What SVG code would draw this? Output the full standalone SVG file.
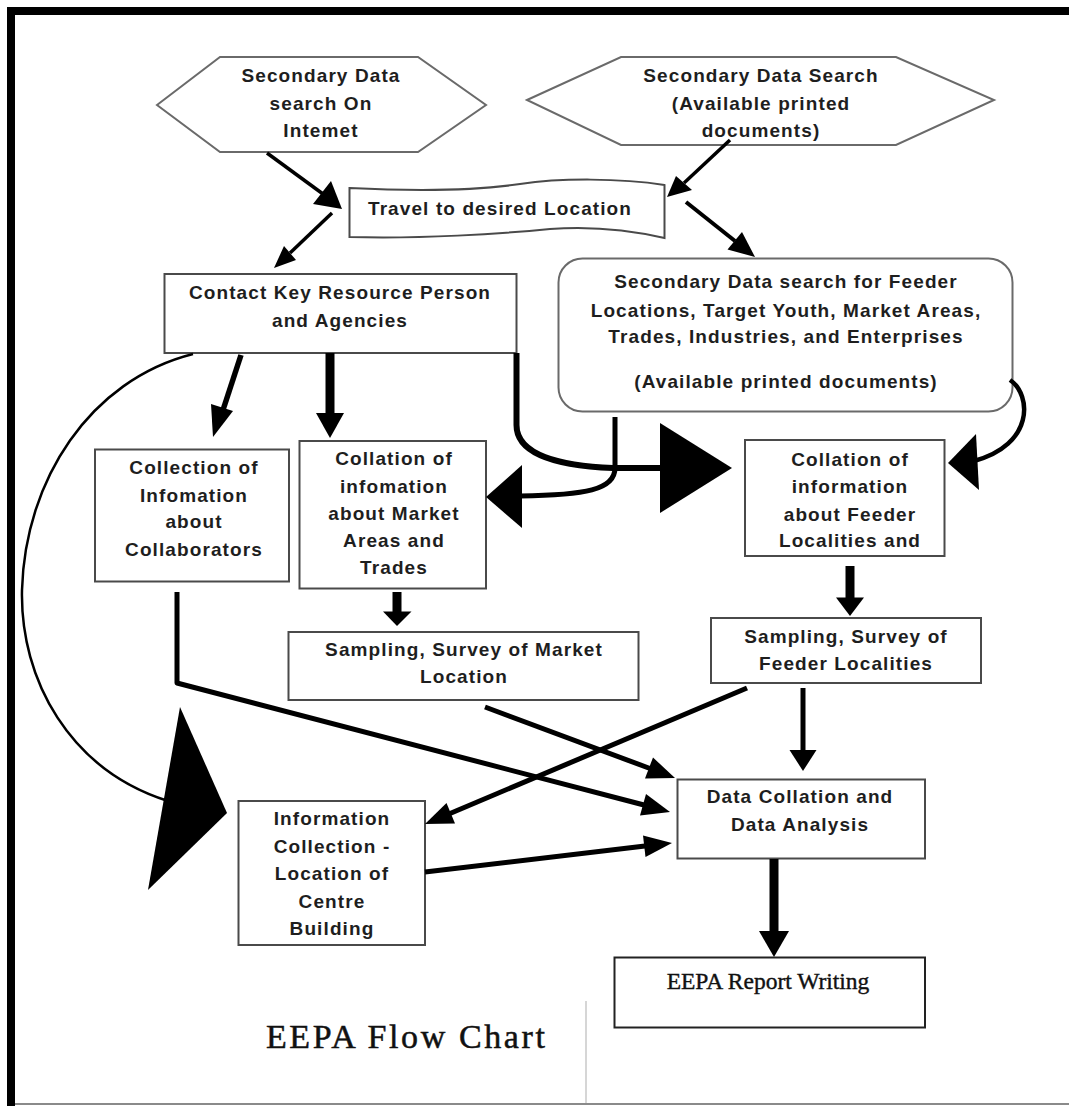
<svg xmlns="http://www.w3.org/2000/svg" width="1069" height="1106" viewBox="0 0 1069 1106">
<style>
.box{fill:#fff;stroke:#4a4a4a;stroke-width:2}
.hex{fill:#fff;stroke:#6a6a6a;stroke-width:2}
.t{font-family:"Liberation Sans",Arial,sans-serif;font-weight:bold;font-size:19px;letter-spacing:1.1px;fill:#1e1e1e;text-anchor:middle}
.s{font-family:"Liberation Serif","Times New Roman",serif;fill:#111;stroke:#111}
.ln{fill:none;stroke:#000;stroke-linecap:butt;stroke-linejoin:round}
.ah{fill:#000;stroke:none}
</style>
<rect x="0" y="0" width="1069" height="1106" fill="#fff"/>
<g id="frame">
<rect x="7" y="7" width="1062" height="8" fill="#000"/>
<rect x="7" y="7" width="8" height="1099" fill="#000"/>
<line x1="15" y1="1104" x2="1069" y2="1104" stroke="#8a8a8a" stroke-width="2"/>
<line x1="586" y1="1001" x2="586" y2="1103" stroke="#c8c8c8" stroke-width="1.5"/>
</g>

<g id="hex-internet">
<polygon class="hex" points="157,105 220,57 418,57 486,105 418,152 220,152"/>
<text class="t" x="321" y="82">Secondary Data</text>
<text class="t" x="321" y="110">search On</text>
<text class="t" x="321" y="137">Intemet</text>
</g>

<g id="hex-printed">
<polygon class="hex" points="527,100 621,57 896,57 994,100 896,145 621,145"/>
<text class="t" x="761" y="82">Secondary Data Search</text>
<text class="t" x="761" y="110">(Available printed</text>
<text class="t" x="761" y="137">documents)</text>
</g>

<g id="travel">
<path class="box" d="M349.5,188 C430,192 480,190 520,184 C560,178 620,178 664.5,185 L664.5,238 C630,230 590,226 550,229 C500,234 420,239 349.5,237 Z"/>
<text class="t" x="500" y="215">Travel to desired Location</text>
</g>

<g id="contact">
<rect class="box" x="164.5" y="274" width="352" height="79"/>
<text class="t" x="340" y="299">Contact Key Resource Person</text>
<text class="t" x="340" y="327">and Agencies</text>
</g>

<g id="secondary-feeder">
<rect class="hex" x="558.5" y="258.5" width="454" height="153" rx="24" ry="24"/>
<text class="t" x="786" y="288">Secondary Data search for Feeder</text>
<text class="t" x="786" y="317">Locations, Target Youth, Market Areas,</text>
<text class="t" x="786" y="343">Trades, Industries, and Enterprises</text>
<text class="t" x="786" y="388">(Available printed documents)</text>
</g>

<g id="collection-collaborators">
<rect class="box" x="95" y="449.5" width="194" height="132"/>
<text class="t" x="194" y="474">Collection of</text>
<text class="t" x="194" y="502">Infomation</text>
<text class="t" x="194" y="528">about</text>
<text class="t" x="194" y="556">Collaborators</text>
</g>

<g id="collation-market">
<rect class="box" x="299.5" y="441" width="186.5" height="147.5"/>
<text class="t" x="394" y="465">Collation of</text>
<text class="t" x="394" y="493">infomation</text>
<text class="t" x="394" y="520">about Market</text>
<text class="t" x="394" y="547">Areas and</text>
<text class="t" x="394" y="574">Trades</text>
</g>

<g id="collation-feeder">
<rect class="box" x="745" y="440" width="199.5" height="116"/>
<text class="t" x="850" y="466">Collation of</text>
<text class="t" x="850" y="493">information</text>
<text class="t" x="850" y="521">about Feeder</text>
<text class="t" x="850" y="547">Localities and</text>
</g>

<g id="sampling-market">
<rect class="box" x="288.5" y="632" width="350" height="68"/>
<text class="t" x="464" y="656">Sampling, Survey of Market</text>
<text class="t" x="464" y="683">Location</text>
</g>

<g id="sampling-feeder">
<rect class="box" x="711" y="618" width="270" height="65"/>
<text class="t" x="846" y="643">Sampling, Survey of</text>
<text class="t" x="846" y="670">Feeder Localities</text>
</g>

<g id="data-collation">
<rect class="box" x="677.5" y="779.5" width="247.5" height="79"/>
<text class="t" x="800" y="803">Data Collation and</text>
<text class="t" x="800" y="831">Data Analysis</text>
</g>

<g id="info-collection">
<rect class="box" x="238.5" y="801" width="186.5" height="144"/>
<text class="t" x="332" y="825">Information</text>
<text class="t" x="332" y="853">Collection -</text>
<text class="t" x="332" y="880">Location of</text>
<text class="t" x="332" y="908">Centre</text>
<text class="t" x="332" y="935">Building</text>
</g>

<g id="report">
<rect x="614.5" y="957.5" width="310.5" height="70" fill="#fff" stroke="#222" stroke-width="2"/>
<text class="s" x="768" y="989" font-size="23.5" stroke-width="0.4" text-anchor="middle">EEPA Report Writing</text>
</g>

<g id="title">
<text class="s" x="266" y="1048" font-size="34" stroke-width="0.5" letter-spacing="2.6">EEPA Flow Chart</text>
</g>

<g id="connectors">
<line class="ln" x1="267" y1="153" x2="323" y2="194" stroke-width="3.5"/>
<polygon class="ah" points="342,209 313,204 331,181"/>
<line class="ln" x1="332" y1="213" x2="290" y2="253" stroke-width="3.5"/>
<polygon class="ah" points="274,268 296,260 284,246"/>
<line class="ln" x1="730" y1="140" x2="684" y2="183" stroke-width="3.5"/>
<polygon class="ah" points="667,197 692,190 676,176"/>
<line class="ln" x1="686" y1="202" x2="735" y2="241" stroke-width="4"/>
<polygon class="ah" points="755,257 727.5,249.5 742,232"/>
<line class="ln" x1="241" y1="355" x2="223" y2="410" stroke-width="5.5"/>
<polygon class="ah" points="213,437 233,411 211,404"/>
<line class="ln" x1="330" y1="353" x2="330" y2="414" stroke-width="9"/>
<polygon class="ah" points="330,438 316,413 344,413"/>
<path class="ln" d="M516.5,353 V425 C516.5,455 560,466 613,468 H662" stroke-width="6"/>
<polygon class="ah" points="660,423 660,513 732,468"/>
<path class="ln" d="M615,417 V468 C615,490 585,495 520,496" stroke-width="5"/>
<polygon class="ah" points="486,497 522,465 522,528"/>
<path class="ln" d="M1010,380 C1032,395 1034,445 974,461" stroke-width="4.5"/>
<polygon class="ah" points="948,463 976,434 979,490"/>
<line class="ln" x1="397" y1="592" x2="397" y2="613" stroke-width="9"/>
<polygon class="ah" points="397,626 383,611.5 411.5,611.5"/>
<line class="ln" x1="850" y1="566" x2="850" y2="599" stroke-width="9"/>
<polygon class="ah" points="850,616 836,597.5 864,597.5"/>
<polyline class="ln" points="177,592 177,683 644,805" stroke-width="5"/>
<polygon class="ah" points="670,812 640,815.5 646,794"/>
<line class="ln" x1="485" y1="707" x2="650" y2="768.5" stroke-width="5"/>
<polygon class="ah" points="675,778 645,778.5 653,757.5"/>
<line class="ln" x1="747" y1="688" x2="450" y2="813.5" stroke-width="5"/>
<polygon class="ah" points="425,824 455,823.5 446.5,803"/>
<line class="ln" x1="425" y1="872" x2="645" y2="846" stroke-width="5"/>
<polygon class="ah" points="672,843 645.5,857 643,835.5"/>
<line class="ln" x1="803" y1="688" x2="803" y2="752" stroke-width="5"/>
<polygon class="ah" points="803,771 789.5,750 816.5,750"/>
<line class="ln" x1="774" y1="859" x2="774" y2="933" stroke-width="9"/>
<polygon class="ah" points="774,957 759,931 789,931"/>
<path class="ln" d="M193,354 C90,380 25,480 22,590 C20,680 70,770 168,801" stroke-width="2.5"/>
<polygon class="ah" points="180,707 227,813 148,890"/>
</g>
</svg>
